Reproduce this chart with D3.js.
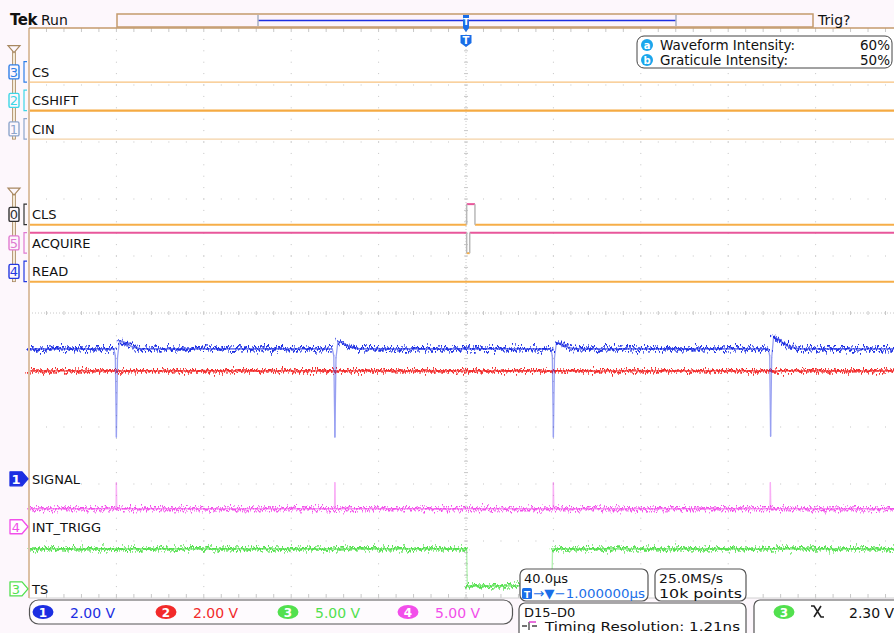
<!DOCTYPE html>
<html>
<head>
<meta charset="utf-8">
<script src="https://cdn.jsdelivr.net/npm/d3@7"></script>
<style>
  html, body { margin: 0; padding: 0; background: #fdf7fc; }
  svg { display: block; font-family: "DejaVu Sans", sans-serif; }
</style>
</head>
<body>
<div id="app"></div>
<script>
// ---- data ----
// time axis: 40 us/div, 10 divisions, trigger in the middle
const timeRange = [-200, 200];

// analog channels (volts), ground marker position in divisions
const analogIds = ["1", "2", "3", "4"];
const analogNames = ["SIGNAL", "", "TS", "INT_TRIGG"];
const voltsPerDiv = [2, 2, 5, 5];
const groundDiv = [-2.91, -2.91, -4.84, -3.75];
const scaleLabels = ["2.00 V", "2.00 V", "5.00 V", "5.00 V"];

const ch1Signal = [
  [-200, 4.56], [-161.2, 4.56], [-160.5, 4.32], [-160, 1.47], [-159.5, 4.25],
  [-158.6, 4.84], [-156.5, 4.8], [-153, 4.64], [-149, 4.56],
  [-61.2, 4.56], [-60.5, 4.32], [-60, 1.47], [-59.5, 4.25],
  [-58.6, 4.82], [-56.5, 4.78], [-53, 4.62], [-49, 4.56],
  [38.8, 4.56], [39.5, 4.32], [40, 1.47], [40.5, 4.25],
  [41.4, 4.78], [43.5, 4.74], [47, 4.6], [51, 4.56],
  [138.3, 4.56], [139, 4.32], [139.4, 1.5], [139.9, 4.25],
  [140.8, 5.0], [143, 4.88], [147, 4.66], [152, 4.56],
  [200, 4.56]
];
const ch2 = [[-200, 3.79], [200, 3.79]];
const ch3TS = [[-200, 3.51], [0.3, 3.51], [0.6, 0.26], [39.3, 0.26], [39.6, 3.51], [200, 3.51]];
const ch4IntTrigg = [
  [-200, 1.58], [-160.2, 1.58], [-160, 3.86], [-159.8, 1.58],
  [-60.2, 1.58], [-60, 3.86], [-59.8, 1.58],
  [39.8, 1.58], [40, 3.86], [40.2, 1.58],
  [139.1, 1.58], [139.3, 3.86], [139.5, 1.58], [200, 1.58]
];
const analogSeries = [ch1Signal, ch2, ch3TS, ch4IntTrigg];

// digital channels: bit, name, slot (divisions), transitions [time, level]
const digitalBits = ["3", "2", "1", "0", "5", "4"];
const digitalNames = ["CS", "CSHIFT", "CIN", "CLS", "ACQUIRE", "READ"];
const digitalSlotDiv = [4.05, 3.55, 3.05, 1.55, 1.05, 0.55];
const digitalStates = [
  [[-200, 0]],
  [[-200, 0]],
  [[-200, 0]],
  [[-200, 0], [0.3, 1], [4.1, 0]],
  [[-200, 1], [0.3, 0], [1.7, 1]],
  [[-200, 0]]
];
const digitalGroups = [[0, 1, 2], [3, 4, 5]];

const intensityRows = [["a", "Waveform Intensity:", "60%"], ["b", "Graticule Intensity:", "50%"]];

// ---- styles ----
const analogColors = ["#1c2ee2", "#f22a2a", "#52e04e", "#f24eea"];
const bitColors = ["#2f7fe8", "#3ed6e6", "#8ea6cc", "#333333", "#e07ad0", "#2438e0"];
const digitalLow = ["#f7c27e", "#f5aa42", "#f4d2a6", "#f6ae48", "#f6ae48", "#f6ae48"];
const digitalWidth = [1.4, 2.4, 1.2, 2, 2, 2];
const digitalHigh = "#e8579b";
const tan = "#c49a6c";

const W = 894, H = 633;
const plotLeft = 29, plotRight = 903, plotTop = 28, plotBottom = 598;

const svg = d3.select("#app").append("svg").attr("width", W).attr("height", H);

const x = d3.scaleLinear().domain(timeRange).range([plotLeft, plotRight]);
const y = d3.scaleLinear().domain([-5, 5]).range([plotBottom, plotTop]);
const yA = (ch, v) => y(groundDiv[ch] + v / voltsPerDiv[ch]);

// noise filters (rendering only)
const defs = svg.append("defs");
const noiseCfg = [["0.7 0.03", 15, 2], ["0.9 0.03", 14, 5], ["0.6 0.03", 10, 7], ["0.85 0.03", 15, 9]];
noiseCfg.forEach(([f, s, seed], i) => {
  const flt = defs.append("filter").attr("id", "noise" + i)
    .attr("filterUnits", "userSpaceOnUse")
    .attr("x", 0).attr("y", 0).attr("width", W).attr("height", H);
  flt.append("feTurbulence").attr("type", "fractalNoise").attr("baseFrequency", f)
    .attr("numOctaves", 2).attr("seed", seed).attr("result", "t");
  flt.append("feDisplacementMap").attr("in", "SourceGraphic").attr("in2", "t")
    .attr("scale", s).attr("xChannelSelector", "R").attr("yChannelSelector", "G");
});

// plot background
svg.append("rect").attr("x", plotLeft).attr("y", plotTop)
  .attr("width", W - plotLeft).attr("height", plotBottom - plotTop).attr("fill", "#ffffff");

// ---- graticule ----
const grid = svg.append("g").attr("fill", "#c4c4c4");
const minorT = d3.range(-200, 200.01, 8);
const minorV = d3.range(-5, 5.01, 0.2);
d3.range(-4, 5).forEach((d) => {
  if (d === 0) return;
  minorT.forEach((t) => grid.append("rect").attr("x", x(t) - 0.5).attr("y", y(d) - 0.5).attr("width", 1).attr("height", 1));
});
d3.range(-160, 200, 40).forEach((t) => {
  if (t === 0) return;
  minorV.forEach((v) => grid.append("rect").attr("x", x(t) - 0.5).attr("y", y(v) - 0.5).attr("width", 1).attr("height", 1));
});
// centre lines
grid.append("line").attr("x1", plotLeft).attr("x2", W).attr("y1", y(0)).attr("y2", y(0))
  .attr("stroke", "#c8c8c8").attr("stroke-dasharray", "1,2");
grid.append("line").attr("x1", x(0)).attr("x2", x(0)).attr("y1", plotTop).attr("y2", plotBottom)
  .attr("stroke", "#c8c8c8").attr("stroke-dasharray", "1,2");
minorT.forEach((t) => {
  grid.append("line").attr("x1", x(t)).attr("x2", x(t)).attr("y1", y(0) - 2).attr("y2", y(0) + 2).attr("stroke", "#c8c8c8");
  grid.append("line").attr("x1", x(t)).attr("x2", x(t)).attr("y1", plotTop).attr("y2", plotTop + 4).attr("stroke", "#c8c8c8");
  grid.append("line").attr("x1", x(t)).attr("x2", x(t)).attr("y1", plotBottom - 4).attr("y2", plotBottom).attr("stroke", "#c8c8c8");
});
minorV.forEach((v) => {
  grid.append("line").attr("x1", x(0) - 2).attr("x2", x(0) + 2).attr("y1", y(v)).attr("y2", y(v)).attr("stroke", "#c8c8c8");
});
svg.append("line").attr("x1", plotLeft).attr("x2", W).attr("y1", plotBottom).attr("y2", plotBottom).attr("stroke", "#d0d0d0");

// ---- digital traces ----
const dig = svg.append("g");
digitalNames.forEach((name, i) => {
  const lo = y(digitalSlotDiv[i]);
  const hi = y(digitalSlotDiv[i] + 0.36);
  const st = digitalStates[i];
  st.forEach(([t, lev], k) => {
    const tEnd = k + 1 < st.length ? st[k + 1][0] : timeRange[1];
    const yy = lev ? hi : lo;
    dig.append("line").attr("x1", x(t)).attr("x2", x(tEnd)).attr("y1", yy).attr("y2", yy)
      .attr("stroke", lev ? digitalHigh : digitalLow[i]).attr("stroke-width", digitalWidth[i]);
    if (k > 0) {
      dig.append("line").attr("x1", x(t)).attr("x2", x(t)).attr("y1", hi).attr("y2", lo)
        .attr("stroke", "#b8b8b8").attr("stroke-width", 1.5);
    }
  });
});

// ---- analog traces ----
const traces = svg.append("g");
[1, 0, 3, 2].forEach((ch) => {
  const pts = analogSeries[ch];
  const g = traces.append("g");
  const under = g.append("g").attr("opacity", 0.6);
  const flat = g.append("g").attr("filter", `url(#noise${ch})`);
  const flat2 = g.append("g").attr("filter", `url(#noise${(ch + 1) % 4})`).attr("opacity", 0.7);
  const steep = g.append("g").attr("opacity", 0.45);
  for (let i = 1; i < pts.length; i++) {
    const x1 = x(pts[i - 1][0]), y1 = yA(ch, pts[i - 1][1]);
    const x2 = x(pts[i][0]), y2 = yA(ch, pts[i][1]);
    const isSteep = Math.abs(y2 - y1) > 3 * Math.max(Math.abs(x2 - x1), 0.3);
    if (isSteep) {
      steep.append("line").attr("x1", x1).attr("y1", y1).attr("x2", x2).attr("y2", y2)
        .attr("stroke", analogColors[ch]).attr("stroke-width", 1.3).attr("stroke-linecap", "round");
    } else {
      [flat, flat2].forEach((grp) => grp.append("line").attr("x1", x1).attr("y1", y1).attr("x2", x2).attr("y2", y2)
        .attr("stroke", analogColors[ch]).attr("stroke-width", 1.7).attr("stroke-linecap", "round"));
      under.append("line").attr("x1", x1).attr("y1", y1).attr("x2", x2).attr("y2", y2)
        .attr("stroke", analogColors[ch]).attr("stroke-width", 1.7);
    }
  }
});

// ---- plot frame ----
svg.append("line").attr("x1", plotLeft).attr("x2", plotLeft).attr("y1", plotTop).attr("y2", plotBottom)
  .attr("stroke", "#dcc0a4").attr("stroke-width", 2);
svg.append("line").attr("x1", plotLeft).attr("x2", W).attr("y1", plotTop).attr("y2", plotTop)
  .attr("stroke", tan).attr("stroke-width", 1.5);

// ---- top bar ----
svg.append("text").attr("x", 10).attr("y", 25).attr("font-size", 15).attr("font-weight", "bold")
  .attr("fill", "#111").attr("letter-spacing", -0.5).text("Tek");
svg.append("text").attr("x", 41).attr("y", 25).attr("font-size", 14).attr("fill", "#111").text("Run");
svg.append("rect").attr("x", 117).attr("y", 14).attr("width", 696).attr("height", 13)
  .attr("fill", "#fdf4fa").attr("stroke", tan).attr("stroke-width", 1.5);
svg.append("line").attr("x1", 258).attr("x2", 676).attr("y1", 20.5).attr("y2", 20.5)
  .attr("stroke", "#1c2ee2").attr("stroke-width", 1.5);
[258, 676].forEach((xx) => svg.append("line").attr("x1", xx).attr("x2", xx).attr("y1", 15).attr("y2", 26)
  .attr("stroke", "#a8b0c0").attr("stroke-width", 1.5));
svg.append("text").attr("x", 818).attr("y", 25).attr("font-size", 14).attr("fill", "#111").text("Trig?");

// trigger position marker
const tx = x(0);
svg.append("path").attr("d", `M${tx - 3},15 h6 v13 l-3,4 l-3,-4 z`).attr("fill", "#1a6ee8");
svg.append("text").attr("x", tx).attr("y", 25).attr("text-anchor", "middle").attr("font-size", 9)
  .attr("font-weight", "bold").attr("fill", "#fff").text("T");
svg.append("path").attr("d", `M${tx - 5.5},35 h11 v8 l-5.5,4 l-5.5,-4 z`).attr("fill", "#1a6ee8");
svg.append("text").attr("x", tx).attr("y", 44).attr("text-anchor", "middle").attr("font-size", 10)
  .attr("font-weight", "bold").attr("fill", "#fff").text("T");

// intensity box
svg.append("rect").attr("x", 637).attr("y", 36).attr("width", 255).attr("height", 32).attr("rx", 7)
  .attr("fill", "#fff").attr("stroke", "#444");
intensityRows.forEach(([k, label, val], i) => {
  const cy = 45 + i * 15;
  svg.append("circle").attr("cx", 647).attr("cy", cy).attr("r", 6).attr("fill", "#1aa6ec");
  svg.append("text").attr("x", 647).attr("y", cy + 3.5).attr("text-anchor", "middle").attr("font-size", 10)
    .attr("font-weight", "bold").attr("fill", "#fff").text(k);
  svg.append("text").attr("x", 660).attr("y", cy + 5).attr("font-size", 13.5).attr("fill", "#111").text(label);
  svg.append("text").attr("x", 890).attr("y", cy + 5).attr("text-anchor", "end").attr("font-size", 13.5)
    .attr("fill", "#111").text(val);
});

// ---- left side: digital group markers and labels ----
const side = svg.append("g");
digitalGroups.forEach((grp) => {
  const topY = y(digitalSlotDiv[grp[0]] + 0.36);
  const botY = y(digitalSlotDiv[grp[grp.length - 1]]);
  side.append("rect").attr("x", 12.5).attr("y", topY - 10).attr("width", 3).attr("height", botY - topY + 10)
    .attr("fill", "#f4ead8").attr("stroke", "#a88860").attr("stroke-width", 0.8);
  side.append("path").attr("d", `M8,${topY - 16} h12 l-6,7 z`).attr("fill", "#fdf7fc")
    .attr("stroke", "#a88860").attr("stroke-width", 1.2);
});
digitalNames.forEach((name, i) => {
  const lo = y(digitalSlotDiv[i]);
  const hi = y(digitalSlotDiv[i] + 0.36);
  const mid = (lo + hi) / 2;
  side.append("rect").attr("x", 9).attr("y", mid - 7).attr("width", 10).attr("height", 14).attr("rx", 1.5)
    .attr("fill", "#fdf7fc").attr("stroke", bitColors[i]).attr("stroke-width", 1.4);
  side.append("text").attr("x", 14).attr("y", mid + 5).attr("text-anchor", "middle").attr("font-size", 13)
    .attr("fill", bitColors[i]).text(digitalBits[i]);
  side.append("path").attr("d", `M27,${hi} h-3 v${lo - hi} h3`).attr("fill", "none")
    .attr("stroke", bitColors[i]).attr("stroke-width", 1.2);
  side.append("text").attr("x", 32).attr("y", mid + 5).attr("font-size", 13).attr("fill", "#111").text(name);
});

// analog ground markers
[0, 3, 2].forEach((ch) => {
  const yc = y(groundDiv[ch]);
  const filled = ch === 0;
  side.append("path").attr("d", `M10,${yc - 7} h12 l6,7 l-6,7 h-12 z`)
    .attr("fill", filled ? analogColors[ch] : "#fff").attr("stroke", analogColors[ch]).attr("stroke-width", 1.3)
    .attr("stroke-linejoin", "round");
  side.append("text").attr("x", 16).attr("y", yc + 5).attr("text-anchor", "middle").attr("font-size", 13)
    .attr("font-weight", filled ? "bold" : "normal")
    .attr("fill", filled ? "#fff" : analogColors[ch]).text(analogIds[ch]);
  side.append("text").attr("x", 32).attr("y", yc + 5).attr("font-size", 13).attr("fill", "#111").text(analogNames[ch]);
});

// ---- bottom readouts ----
const bot = svg.append("g");
bot.append("rect").attr("x", 29.5).attr("y", 600).attr("width", 483).attr("height", 24).attr("rx", 9)
  .attr("fill", "#fefbfe").attr("stroke", "#555").attr("stroke-width", 1.2);
const badgeX = [43, 166, 288, 408];
analogIds.forEach((id, i) => {
  bot.append("ellipse").attr("cx", badgeX[i]).attr("cy", 612).attr("rx", 10.5).attr("ry", 7)
    .attr("fill", analogColors[i]);
  bot.append("text").attr("x", badgeX[i]).attr("y", 617).attr("text-anchor", "middle").attr("font-size", 12)
    .attr("font-weight", "bold").attr("fill", "#fff").text(id);
  bot.append("text").attr("x", badgeX[i] + 27).attr("y", 617.5).attr("font-size", 14)
    .attr("fill", analogColors[i]).text(scaleLabels[i]);
});

function box(xx, yy, w, h) {
  bot.append("rect").attr("x", xx).attr("y", yy).attr("width", w).attr("height", h).attr("rx", 6)
    .attr("fill", "#fff").attr("stroke", "#555").attr("stroke-width", 1.2);
}
box(520, 569, 128, 32);
bot.append("text").attr("x", 524).attr("y", 583).attr("font-size", 13).attr("fill", "#111").text("40.0\u00b5s");
bot.append("rect").attr("x", 522).attr("y", 588).attr("width", 10).attr("height", 11).attr("rx", 1.5).attr("fill", "#1a6ee8");
bot.append("text").attr("x", 527).attr("y", 597.5).attr("text-anchor", "middle").attr("font-size", 9)
  .attr("font-weight", "bold").attr("fill", "#fff").text("T");
bot.append("text").attr("x", 533).attr("y", 598).attr("font-size", 13).attr("fill", "#1a6ee8")
  .attr("textLength", 112).attr("lengthAdjust", "spacingAndGlyphs")
  .text("\u2192\u25bc\u22121.000000\u00b5s");
box(655, 569, 91, 32);
bot.append("text").attr("x", 659).attr("y", 583).attr("font-size", 13).attr("fill", "#111")
  .attr("textLength", 64).attr("lengthAdjust", "spacingAndGlyphs").text("25.0MS/s");
bot.append("text").attr("x", 659).attr("y", 598).attr("font-size", 13).attr("fill", "#111")
  .attr("textLength", 83).attr("lengthAdjust", "spacingAndGlyphs").text("10k points");
box(519, 603, 227, 40);
bot.append("text").attr("x", 524).attr("y", 616.5).attr("font-size", 13).attr("fill", "#111").text("D15\u2013D0");
bot.append("path").attr("d", "M522,626 h5 M529,622 v8 M537,626 h-5").attr("stroke", "#444").attr("stroke-width", 1.3);
bot.append("path").attr("d", "M529,622 h7").attr("stroke", "#e040d0").attr("stroke-width", 1.5);
bot.append("text").attr("x", 545).attr("y", 631).attr("font-size", 13).attr("fill", "#111")
  .attr("textLength", 195).attr("lengthAdjust", "spacingAndGlyphs").text("Timing Resolution: 1.21ns");
box(754, 600, 150, 40);
bot.append("ellipse").attr("cx", 784).attr("cy", 612).attr("rx", 10.5).attr("ry", 7).attr("fill", analogColors[2]);
bot.append("text").attr("x", 784).attr("y", 617).attr("text-anchor", "middle").attr("font-size", 12)
  .attr("font-weight", "bold").attr("fill", "#fff").text("3");
bot.append("path").attr("d", "M811,606 h3 l7,11 h3 M814,617 l7,-11").attr("fill", "none")
  .attr("stroke", "#222").attr("stroke-width", 1.6);
bot.append("text").attr("x", 849).attr("y", 617.5).attr("font-size", 14).attr("fill", "#111").text("2.30 V");
</script>
</body>
</html>
